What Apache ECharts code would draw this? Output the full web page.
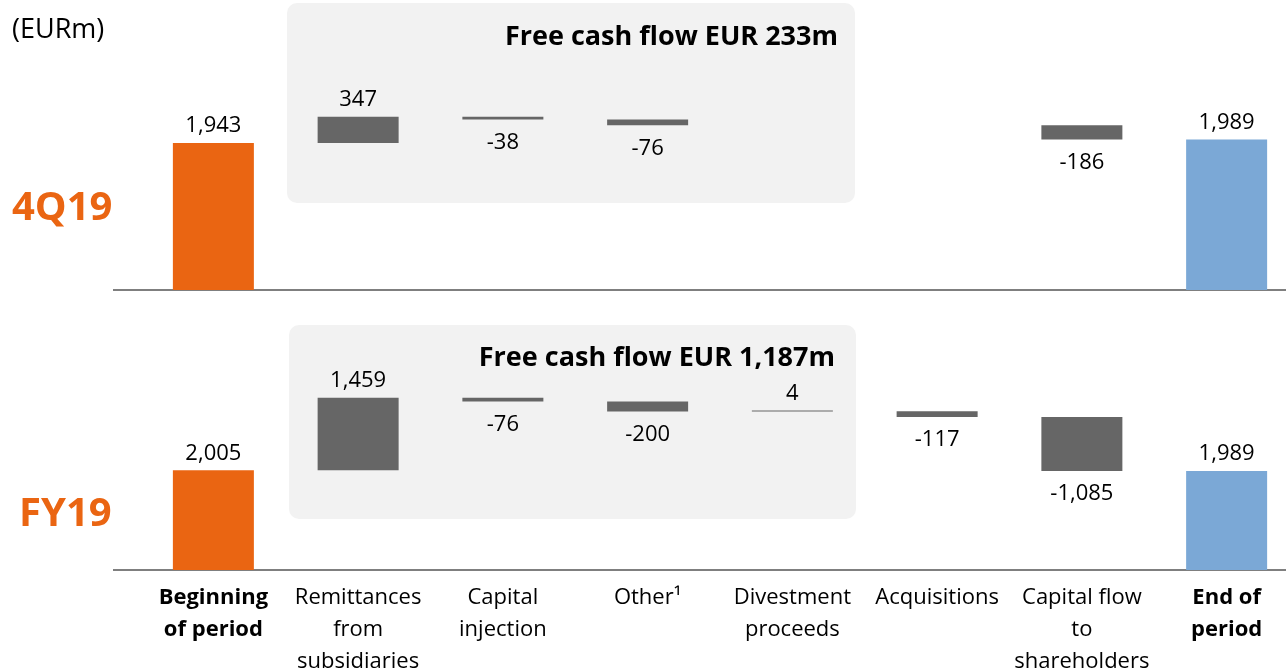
<!DOCTYPE html>
<html>
<head>
<meta charset="utf-8">
<script src="https://cdn.jsdelivr.net/npm/echarts@6/dist/echarts.min.js"></script>
<style>html,body{margin:0;padding:0;background:#fff}#c{width:1286px;height:671px}</style>
</head>
<body>
<div id="c"></div>
<script>
// ---- data ----
const categories = ['Beginning\nof period', 'Remittances\nfrom\nsubsidiaries', 'Capital\ninjection', 'Other¹', 'Divestment\nproceeds', 'Acquisitions', 'Capital flow\nto\nshareholders', 'End of\nperiod'];
const q4Begin = 1943;
const q4Flows = [347, -38, -76, null, null, -186];
const q4End = 1989;
const fyBegin = 2005;
const fyFlows = [1459, -76, -200, 4, -117, -1085];
const fyEnd = 1989;
const periodLabels = ['4Q19', 'FY19'];
const panelTitles = ['Free cash flow EUR 233m', 'Free cash flow EUR 1,187m'];
const unitLabel = '(EURm)';

// ---- styling ----
const FONT = '"Open Sans", "Noto Sans", sans-serif';
const ORANGE = '#EA6512';
const BLUE = '#7BA8D6';
const GRAY = '#666666';
const AXIS = '#7F7F7F';

function fmt(v) { return v.toLocaleString('en-US'); }

function buildSeries(begin, flows, end, g) {
  const base = [0];
  const vals = [{ value: begin, itemStyle: { color: ORANGE }, label: { position: 'top', distance: 6 } }];
  const texts = [fmt(begin)];
  let cum = begin;
  flows.forEach(f => {
    if (f === null) { base.push('-'); vals.push('-'); texts.push(''); return; }
    if (f >= 0) {
      base.push(cum); cum += f;
      vals.push({ value: f, label: { position: 'top', distance: 6 } });
    } else {
      cum += f; base.push(cum);
      vals.push({ value: -f, label: { position: 'bottom', distance: 12 } });
    }
    texts.push(fmt(f));
  });
  base.push(0);
  vals.push({ value: end, itemStyle: { color: BLUE }, label: { position: 'top', distance: 6 } });
  texts.push(fmt(end));
  return [
    { type: 'bar', xAxisIndex: g, yAxisIndex: g, stack: 's' + g, data: base, barWidth: 81,
      itemStyle: { color: 'rgba(0,0,0,0)' }, silent: true, z: 3 },
    { type: 'bar', xAxisIndex: g, yAxisIndex: g, stack: 's' + g, data: vals, barWidth: 81, barMinHeight: 1,
      itemStyle: { color: GRAY }, silent: true, z: 3,
      label: { show: true, color: '#000', fontSize: 22, fontFamily: FONT,
        formatter: p => texts[p.dataIndex] } }
  ];
}

function catFormatter(v, i) {
  const tag = (i === 0 || i === categories.length - 1) ? 'b' : 'n';
  return v.split('\n').map(s => '{' + tag + '|' + s + '}').join('\n');
}

const chart = echarts.init(document.getElementById('c'), null, { renderer: 'canvas' });
const xAxisCommon = {
  type: 'category', data: categories, boundaryGap: true,
  axisLine: { show: true, lineStyle: { color: AXIS, width: 2 } },
  axisTick: { show: false }
};
chart.setOption({
  animation: false,
  backgroundColor: '#fff',
  grid: [
    { left: 141, width: 1158, top: 63, height: 227, outerBoundsMode: 'none', containLabel: false },
    { left: 141, width: 1158, top: 371, height: 199, outerBoundsMode: 'none', containLabel: false }
  ],
  xAxis: [
    Object.assign({ gridIndex: 0, axisLabel: { show: false } }, xAxisCommon),
    Object.assign({ gridIndex: 1, axisLabel: {
      show: true, interval: 0, margin: 12, color: '#000', fontFamily: FONT, fontSize: 22, lineHeight: 32,
      formatter: catFormatter,
      rich: {
        b: { fontWeight: 'bold', fontSize: 22, lineHeight: 32, fontFamily: FONT, color: '#000' },
        n: { fontSize: 22, lineHeight: 32, fontFamily: FONT, color: '#000' }
      } } }, xAxisCommon)
  ],
  yAxis: [
    { gridIndex: 0, type: 'value', min: 0, max: 3000, show: false },
    { gridIndex: 1, type: 'value', min: 0, max: 4000, show: false }
  ],
  graphic: [
    { type: 'rect', z: -1, shape: { x: 287, y: 3, width: 568, height: 200, r: 10 }, style: { fill: '#F2F2F2' }, silent: true },
    { type: 'rect', z: -1, shape: { x: 289, y: 325, width: 567, height: 194, r: 10 }, style: { fill: '#F2F2F2' }, silent: true },
    { type: 'line', z: 5, shape: { x1: 113, y1: 290, x2: 142, y2: 290 }, style: { stroke: AXIS, lineWidth: 2 }, silent: true },
    { type: 'line', z: 5, shape: { x1: 113, y1: 570, x2: 142, y2: 570 }, style: { stroke: AXIS, lineWidth: 2 }, silent: true },
    { type: 'text', z: 10, x: 838, y: 37, style: { text: panelTitles[0], fontSize: 27, fontWeight: 'bold', fontFamily: FONT, fill: '#000', align: 'right', verticalAlign: 'middle' } },
    { type: 'text', z: 10, x: 835, y: 358, style: { text: panelTitles[1], fontSize: 27, fontWeight: 'bold', fontFamily: FONT, fill: '#000', align: 'right', verticalAlign: 'middle' } },
    { type: 'text', z: 10, x: 12, y: 30, style: { text: unitLabel, fontSize: 27, fontFamily: FONT, fill: '#000', align: 'left', verticalAlign: 'middle' } },
    { type: 'text', z: 10, x: 12, y: 209, style: { text: periodLabels[0], fontSize: 40, fontWeight: 'bold', fontFamily: FONT, fill: ORANGE, align: 'left', verticalAlign: 'middle' } },
    { type: 'text', z: 10, x: 19, y: 515, style: { text: periodLabels[1], fontSize: 40, fontWeight: 'bold', fontFamily: FONT, fill: ORANGE, align: 'left', verticalAlign: 'middle' } }
  ],
  series: [].concat(buildSeries(q4Begin, q4Flows, q4End, 0), buildSeries(fyBegin, fyFlows, fyEnd, 1))
});
</script>
</body>
</html>
